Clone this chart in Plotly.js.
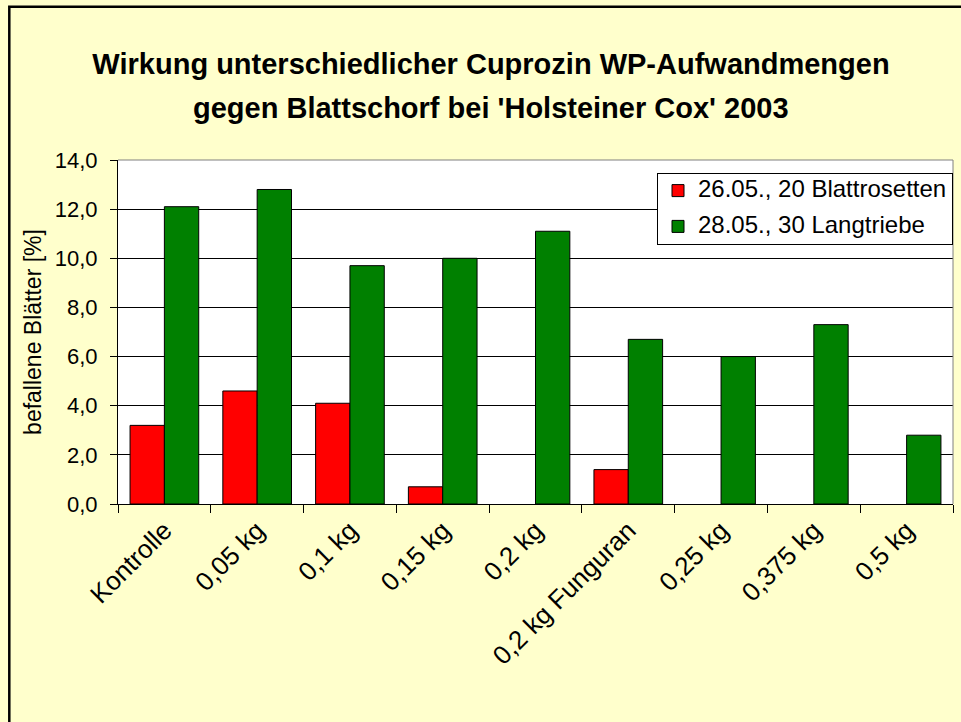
<!DOCTYPE html>
<html>
<head>
<meta charset="utf-8">
<script src="https://cdn.plot.ly/plotly-3.0.1.min.js"></script>
<style>html,body{margin:0;padding:0;background:#FFFFCC;}#chart{width:961px;height:722px;}</style>
</head>
<body>
<div id="chart"></div>
<script>
const categories = ['Kontrolle', '0,05 kg', '0,1 kg', '0,15 kg', '0,2 kg', '0,2 kg Funguran', '0,25 kg', '0,375 kg', '0,5 kg'];
const blattrosetten = [3.2, 4.6, 4.1, 0.7, null, 1.4, null, null, null];
const langtriebe = [12.1, 12.8, 9.7, 10.0, 11.1, 6.7, 6.0, 7.3, 2.8];
const seriesNames = ['26.05., 20 Blattrosetten', '28.05., 30 Langtriebe'];
const titleLine1 = 'Wirkung unterschiedlicher Cuprozin WP-Aufwandmengen';
const titleLine2 = "gegen Blattschorf bei 'Holsteiner Cox' 2003";
const yTitle = 'befallene Blätter [%]';

const FONT = '"Liberation Sans", Arial, sans-serif';
const legendName = s => '<span style="font-size:24px">' + s + '</span>';

const traces = [
  {
    type: 'bar', x: categories, y: blattrosetten, name: legendName(seriesNames[0]), legendgroup: 'a',
    marker: {color: '#FF0000', line: {color: '#000000', width: 1}}, hoverinfo: 'x+y'
  },
  {
    type: 'bar', x: categories, y: langtriebe, name: legendName(seriesNames[1]), legendgroup: 'b',
    marker: {color: '#008000', line: {color: '#000000', width: 1}}, hoverinfo: 'x+y'
  }
];

const L = 118, R = 8, T = 160, B = 218, W = 961, H = 722;
const pw = W - L - R, ph = H - T - B;
const px2x = p => (p - L) / pw;
const py2y = p => (T + ph - p) / ph;

const layout = {
  width: W, height: H,
  margin: {l: L, r: R, t: T, b: B, pad: 0},
  paper_bgcolor: '#FFFFCC',
  plot_bgcolor: '#FFFFFF',
  separators: ',.',
  font: {family: FONT, size: 22, color: '#000000'},
  barmode: 'group',
  bargap: 0.26,
  bargroupgap: 0,
  showlegend: true,
  title: {
    text: titleLine1,
    font: {family: FONT, size: 29, weight: 'bold', color: '#000000'},
    xref: 'container', yref: 'container',
    x: 491 / W, xanchor: 'center',
    y: 1 - 64 / H, yanchor: 'middle'
  },
  annotations: [{
    text: titleLine2,
    font: {family: FONT, size: 29, weight: 'bold', color: '#000000'},
    xref: 'paper', yref: 'paper',
    x: px2x(491), y: py2y(108),
    xanchor: 'center', yanchor: 'middle',
    showarrow: false
  }],
  legend: {
    x: 1, xanchor: 'right', xref: 'paper',
    y: py2y(172.7), yanchor: 'top', yref: 'paper',
    bgcolor: '#FFFFFF', bordercolor: '#000000', borderwidth: 1,
    font: {family: FONT, size: 16, color: '#000000'},
    tracegroupgap: 12,
    traceorder: 'grouped'
  },
  xaxis: {
    type: 'category',
    tickson: 'boundaries',
    ticks: 'outside', ticklen: 8, tickcolor: '#000000', tickwidth: 1,
    tickangle: -45,
    tickfont: {family: FONT, size: 26, color: '#000000'},
    showline: true, linecolor: '#000000', linewidth: 1,
    showgrid: false, zeroline: false,
    fixedrange: true
  },
  yaxis: {
    range: [0, 14], dtick: 2, tick0: 0,
    tickformat: '.1f',
    ticks: 'outside', ticklen: 7, tickcolor: '#000000', tickwidth: 1,
    ticklabelstandoff: 8,
    tickfont: {family: FONT, size: 22, color: '#000000'},
    showline: true, linecolor: '#000000', linewidth: 1,
    showgrid: true, gridcolor: '#000000', gridwidth: 1,
    zeroline: false,
    title: {text: yTitle, font: {family: FONT, size: 23, color: '#000000'}, standoff: 6},
    fixedrange: true
  },
  shapes: [
    {type: 'line', xref: 'paper', yref: 'paper', x0: 0, x1: 1, y0: 1, y1: 1, line: {color: '#808080', width: 1}},
    {type: 'line', xref: 'paper', yref: 'paper', x0: 1, x1: 1, y0: 0, y1: 1, line: {color: '#808080', width: 1}},
    {type: 'rect', xref: 'paper', yref: 'paper',
      x0: px2x(9.3), x1: px2x(975), y0: py2y(740), y1: py2y(6.7),
      line: {color: '#000000', width: 2.5}, fillcolor: 'rgba(0,0,0,0)', layer: 'above'}
  ]
};

Plotly.newPlot('chart', traces, layout, {displayModeBar: false, staticPlot: true});
</script>
</body>
</html>
